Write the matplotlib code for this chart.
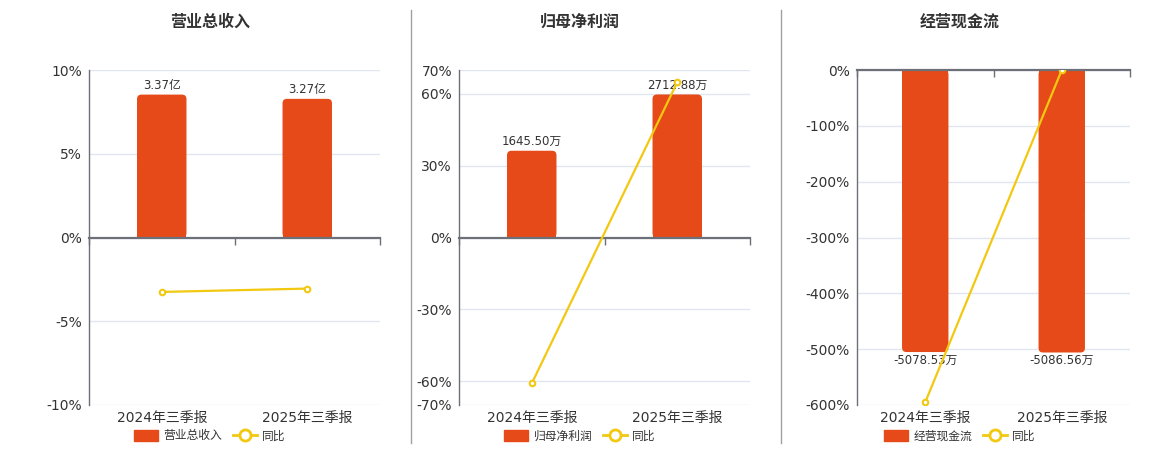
import matplotlib
matplotlib.use("Agg")
import matplotlib.pyplot as plt
from matplotlib.lines import Line2D
from matplotlib.patches import Patch, FancyBboxPatch, Rectangle

plt.rcParams['font.family'] = ['DejaVu Sans', 'Noto Sans CJK SC']
plt.rcParams['axes.unicode_minus'] = False

# data
periods = ['2024年三季报', '2025年三季报']
titles = ['营业总收入', '归母净利润', '经营现金流']
bar_values = [[3.37, 3.27], [1645.50, 2712.88], [-5078.53, -5086.56]]
bar_labels = [['3.37亿', '3.27亿'], ['1645.50万', '2712.88万'], ['-5078.53万', '-5086.56万']]
yoy = [[-3.25, -3.05], [-61.0, 64.87], [-595.0, -0.16]]
pct_ticks = [[10, 5, 0, -5, -10], [70, 60, 30, 0, -30, -60, -70], [0, -100, -200, -300, -400, -500, -600]]
pct_lims = [(-10, 10), (-70, 70), (-600, 0)]
bar_lims = [(-3.95, 3.95), (-3177, 3177), (-6032, 0)]

BAR = '#E64A19'
LINE = '#F2C811'
AXIS = '#6E7079'
GRID = '#E0E6F1'
TXT = '#333333'

fig = plt.figure(figsize=(11.6, 4.5), dpi=100)

# axes boxes in pixels: left, right ; plot area from y=70 to y=405
boxes = [(89, 380), (459, 750), (857, 1130)]
centers = [210, 580, 960]
W, H = 1160.0, 450.0
PH = 335.0
RAD = 4.5  # corner radius, px

for k in range(3):
    l, r = boxes[k]
    rect = [l / W, 1 - 405 / H, (r - l) / W, PH / H]
    ax = fig.add_axes(rect)
    ax.set_xlim(-0.5, 1.5)
    ax.set_ylim(*pct_lims[k])
    ax.set_yticks(pct_ticks[k])
    ax.set_yticklabels([f'{t}%' for t in pct_ticks[k]], fontsize=10, color=TXT)
    ax.tick_params(axis='y', length=0, pad=5)
    ax.grid(axis='y', color=GRID, linewidth=1)
    ax.set_axisbelow(True)
    for s in ['top', 'right']:
        ax.spines[s].set_visible(False)
    ax.spines['left'].set_color(AXIS)
    ax.spines['left'].set_linewidth(1)
    ax.spines['bottom'].set_visible(False)

    # bars on a hidden twin scale, with rounded outer corners
    bx = ax.twinx()
    bx.set_ylim(*bar_lims[k])
    bx.axis('off')
    bars = bx.bar([0, 1], bar_values[k], width=0.34, color=BAR, zorder=2)
    xpp = 2.0 / (r - l)
    ypp = (bar_lims[k][1] - bar_lims[k][0]) / PH
    for i, b in enumerate(bars):
        v = bar_values[k][i]
        x0, bw = b.get_x(), b.get_width()
        b.set_visible(False)
        lo, hi = min(0, v), max(0, v)
        bx.add_patch(FancyBboxPatch((x0, lo), bw, hi - lo,
                                    boxstyle=f'round,pad=0,rounding_size={RAD * xpp}',
                                    mutation_aspect=ypp / xpp, facecolor=BAR, edgecolor='none', zorder=2))
        bx.add_patch(Rectangle((x0, 0), bw, v / 2, facecolor=BAR, edgecolor='none', zorder=2))
        if v >= 0:
            bx.annotate(bar_labels[k][i], (i, v), xytext=(0, 2), textcoords='offset points',
                        ha='center', va='bottom', fontsize=8.5, color=TXT)
        else:
            bx.annotate(bar_labels[k][i], (i, v), xytext=(0, -1), textcoords='offset points',
                        ha='center', va='top', fontsize=8.5, color=TXT)

    # zero axis line with ticks, and yoy line on top
    lx = ax.twinx()
    lx.xaxis.set_visible(True)
    lx.set_ylim(*pct_lims[k])
    lx.set_xlim(-0.5, 1.5)
    for s in ['top', 'right', 'left']:
        lx.spines[s].set_visible(False)
    lx.spines['bottom'].set_visible(True)
    lx.spines['bottom'].set_position(('data', 0))
    lx.spines['bottom'].set_color(AXIS)
    lx.spines['bottom'].set_linewidth(1.6)
    lx.set_yticks([])
    lx.set_xticks([-0.5, 0.5, 1.5])
    lx.set_xticklabels([])
    lx.tick_params(axis='x', bottom=True, top=False, direction='out', length=5, color=AXIS, width=1)
    ax.tick_params(axis='x', bottom=False, labelbottom=False)
    lx.plot([0, 1], yoy[k], color=LINE, linewidth=1.6, marker='o', markersize=4,
            markerfacecolor='white', markeredgecolor=LINE, markeredgewidth=1.5, zorder=5)

    for i, p in enumerate(periods):
        ax.annotate(p, (i, 0), xycoords=('data', 'axes fraction'), xytext=(0, -4),
                    textcoords='offset points', ha='center', va='top', fontsize=10, color=TXT)

    fig.text(centers[k] / W, 1 - 22 / H, titles[k], ha='center', va='center',
             fontsize=11.5, fontweight='bold', color=TXT)

    handles = [Patch(facecolor=BAR, edgecolor=BAR),
               Line2D([0], [0], color=LINE, linewidth=2, marker='o', markersize=8,
                      markerfacecolor='white', markeredgecolor=LINE, markeredgewidth=2)]
    fig.legend(handles, [titles[k], '同比'], loc='center', ncol=2, frameon=False,
               bbox_to_anchor=(centers[k] / W, 1 - 436 / H), fontsize=8.5,
               handlelength=2.0, handleheight=1.1, handletextpad=0.5, columnspacing=0.9,
               labelcolor=TXT)

# separators between panels
for x in [410.5, 781]:
    fig.add_artist(Line2D([x / W, x / W], [1 - 10 / H, 1 - 443 / H], color='#A0A0A0', linewidth=1))

fig.savefig('out.png', dpi=100)
